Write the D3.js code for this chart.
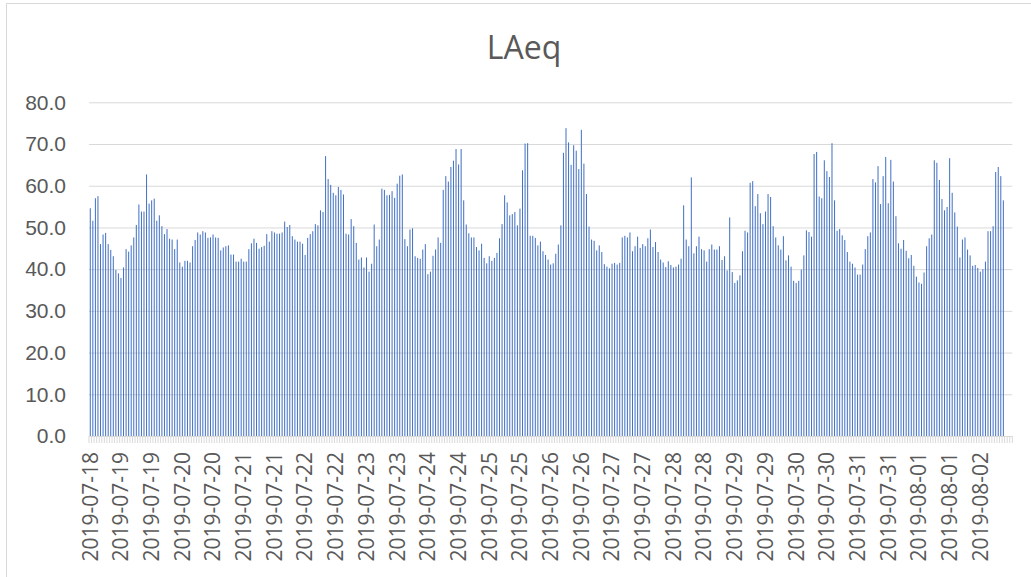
<!DOCTYPE html>
<html>
<head>
<meta charset="utf-8">
<script src="https://d3js.org/d3.v7.min.js"></script>
<style>
  body { margin: 0; background: #fff; }
  svg { display: block; font-family: "Open Sans", sans-serif; }
  .y.axis .domain { stroke: none; }
  .y.axis line { stroke: #d9d9d9; }
  .axis text { fill: #595959; font-size: 21px; }
  .ticks line { stroke: #d9d9d9; }
</style>
</head>
<body>
<script>
// hourly LAeq, starting 2019-07-18 12:00
const laeqJul18 = [54.6, 51.6, 57.0, 57.5, 46.0, 48.3, 48.7, 46.0, 44.6, 43.1, 39.8, 39.0, 37.9, 40.4, 44.8, 44.2, 45.7, 47.6, 50.6, 55.5,
  53.8, 53.8, 62.7, 55.7, 56.5, 56.9, 51.6, 52.9, 50.3, 48.4, 49.6, 47.3, 47.1, 44.8, 47.1, 41.6, 40.6, 42.0, 42.0, 41.6,
  45.5, 47.0, 48.8, 48.3, 49.1, 48.8, 47.5, 47.6, 48.3, 47.6, 47.5, 44.5, 45.2, 45.5, 45.7, 43.5, 43.5, 41.8, 41.8];
const laeqJul20 = [42.5, 41.8, 41.8, 44.8, 46.2, 47.3, 46.3, 44.9, 45.3, 45.6, 48.4, 46.6, 49.1, 48.8, 48.5, 48.5, 48.8, 51.4, 50.1, 50.6,
  47.9, 47.1, 46.6, 46.6, 46.1, 43.4, 47.5, 48.4, 49.1, 50.8, 50.5, 54.1, 53.7, 67.1, 61.6, 60.2, 58.3, 57.7, 59.7, 59.0,
  57.9, 48.5, 48.3, 52.0, 50.3, 46.3, 42.3, 42.8, 40.4, 42.8, 39.4, 41.3, 50.7, 45.5, 47.1, 59.3, 59.0, 57.7, 57.8];
const laeqJul23 = [58.7, 57.1, 60.5, 62.4, 62.7, 47.2, 45.5, 49.5, 49.8, 43.1, 42.7, 42.5, 44.7, 46.0, 38.8, 39.4, 43.2, 44.7, 47.6, 46.3,
  59.0, 62.3, 61.0, 64.5, 66.0, 68.8, 65.1, 68.8, 56.5, 50.7, 48.6, 47.6, 47.6, 45.3, 44.5, 46.1, 42.7, 41.4, 43.1, 42.0,
  42.7, 43.9, 47.4, 50.8, 57.7, 56.0, 52.9, 53.2, 53.7, 50.5, 54.5, 63.7, 70.1, 70.2, 48.0, 48.0, 47.5, 45.7];
const laeqJul25 = [46.6, 44.3, 43.4, 42.3, 41.1, 41.4, 43.7, 45.9, 50.5, 67.9, 73.8, 70.4, 65.0, 69.7, 68.4, 64.0, 73.4, 65.3, 58.0, 50.2,
  47.1, 46.8, 44.5, 45.7, 44.1, 41.2, 40.6, 40.2, 41.3, 41.5, 41.1, 41.5, 47.6, 48.0, 47.6, 48.8, 44.3, 45.5, 47.8, 45.1,
  46.0, 45.5, 47.4, 49.5, 45.3, 46.5, 44.1, 42.3, 41.6, 40.5, 41.9, 41.0, 40.4, 40.6, 41.1, 42.5, 55.3, 47.1, 45.5];
const laeqJul28 = [62.0, 43.8, 45.5, 47.8, 44.8, 44.5, 41.8, 44.8, 45.9, 44.7, 44.7, 45.5, 42.2, 43.1, 39.7, 52.4, 39.3, 36.7, 37.3, 38.5,
  44.3, 49.2, 48.8, 60.7, 61.1, 55.1, 58.0, 53.4, 50.8, 53.8, 58.0, 57.3, 50.3, 47.6, 45.7, 44.7, 47.9, 42.1, 43.3, 40.6,
  37.2, 36.7, 37.2, 39.9, 43.3, 49.3, 48.9, 47.8, 67.6, 68.1, 57.4, 57.0, 66.1, 63.5, 62.1];
const laeqJul30 = [70.2, 56.5, 49.2, 49.6, 48.1, 47.0, 44.1, 41.8, 41.3, 40.4, 38.7, 38.7, 41.1, 44.8, 47.9, 48.8, 61.6, 60.8, 64.7, 55.6,
  62.3, 66.9, 55.8, 66.2, 61.0, 52.7, 46.2, 44.9, 47.0, 44.4, 42.6, 43.4, 40.8, 38.2, 36.8, 36.5, 39.2, 45.5, 47.4, 48.3,
  66.1, 65.5, 61.4, 56.8, 54.1, 54.9, 66.6, 58.3, 53.6, 50.2, 42.8, 47.1, 47.6, 44.7, 43.3, 40.8, 41.0, 40.3, 39.4, 40.0,
  41.8, 49.1, 49.1, 50.3, 63.3, 64.5, 62.3, 56.5];
// last hours have no reading
const laeqMissing = [null, null, null];

// one label every 12 hours
const tickLabels = ["2019-07-18", "2019-07-19", "2019-07-19", "2019-07-20", "2019-07-20", "2019-07-21", "2019-07-21",
  "2019-07-22", "2019-07-22", "2019-07-23", "2019-07-23", "2019-07-24", "2019-07-24", "2019-07-25", "2019-07-25",
  "2019-07-26", "2019-07-26", "2019-07-27", "2019-07-27", "2019-07-28", "2019-07-28", "2019-07-29", "2019-07-29",
  "2019-07-30", "2019-07-30", "2019-07-31", "2019-07-31", "2019-08-01", "2019-08-01", "2019-08-02"];
const yTicks = [0, 10, 20, 30, 40, 50, 60, 70, 80];

const values = [].concat(laeqJul18, laeqJul20, laeqJul23, laeqJul25, laeqJul28, laeqJul30, laeqMissing);

const W = 1031, H = 577;
const margin = {left: 89, right: 1012.3, top: 102.3, bottom: 436};

const svg = d3.select("body").append("svg")
    .attr("width", W)
    .attr("height", H);

// chart frame
svg.append("rect")
    .attr("x", 6.5).attr("y", 3.5)
    .attr("width", 1100).attr("height", 700)
    .attr("fill", "none")
    .attr("stroke", "#d9d9d9");

svg.append("text")
    .attr("x", 524).attr("y", 59)
    .attr("text-anchor", "middle")
    .attr("fill", "#595959")
    .style("font-size", "32px")
    .text("LAeq");

const x = d3.scaleBand()
    .domain(d3.range(values.length))
    .range([margin.left, margin.right])
    .paddingInner(0.6)
    .paddingOuter(0.3);

const y = d3.scaleLinear()
    .domain([0, 80])
    .range([margin.bottom, margin.top]);

const yAxis = d3.axisLeft(y)
    .tickValues(yTicks)
    .tickFormat(d3.format(".1f"))
    .tickSize(-(margin.right - margin.left))
    .tickPadding(23);

svg.append("g")
    .attr("class", "y axis")
    .attr("transform", `translate(${margin.left},0)`)
    .call(yAxis);

svg.append("g")
  .selectAll("rect")
    .data(values.map((v, i) => ({i: i, v: v})).filter(d => d.v != null))
  .enter().append("rect")
    .attr("x", d => x(d.i))
    .attr("width", x.bandwidth())
    .attr("y", d => y(d.v))
    .attr("height", d => y(0) - y(d.v))
    .attr("fill", "#4472c4");

// category tick marks along the bottom
const step = x.step();
const ticks = svg.append("g").attr("class", "ticks");
ticks.append("line")
    .attr("x1", margin.left).attr("x2", margin.right)
    .attr("y1", margin.bottom + 0.5).attr("y2", margin.bottom + 0.5);
ticks.selectAll(".tk")
    .data(d3.range(values.length + 1))
  .enter().append("line")
    .attr("class", "tk")
    .attr("x1", i => margin.left + i * step)
    .attr("x2", i => margin.left + i * step)
    .attr("y1", margin.bottom)
    .attr("y2", margin.bottom + 7);

svg.append("g")
    .attr("class", "x axis")
  .selectAll("text")
    .data(tickLabels)
  .enter().append("text")
    .attr("transform", (d, k) => `translate(${x(k * 12) + x.bandwidth() / 2},452) rotate(-90)`)
    .attr("text-anchor", "end")
    .attr("dy", "0.35em")
    .text(d => d);
</script>
</body>
</html>
